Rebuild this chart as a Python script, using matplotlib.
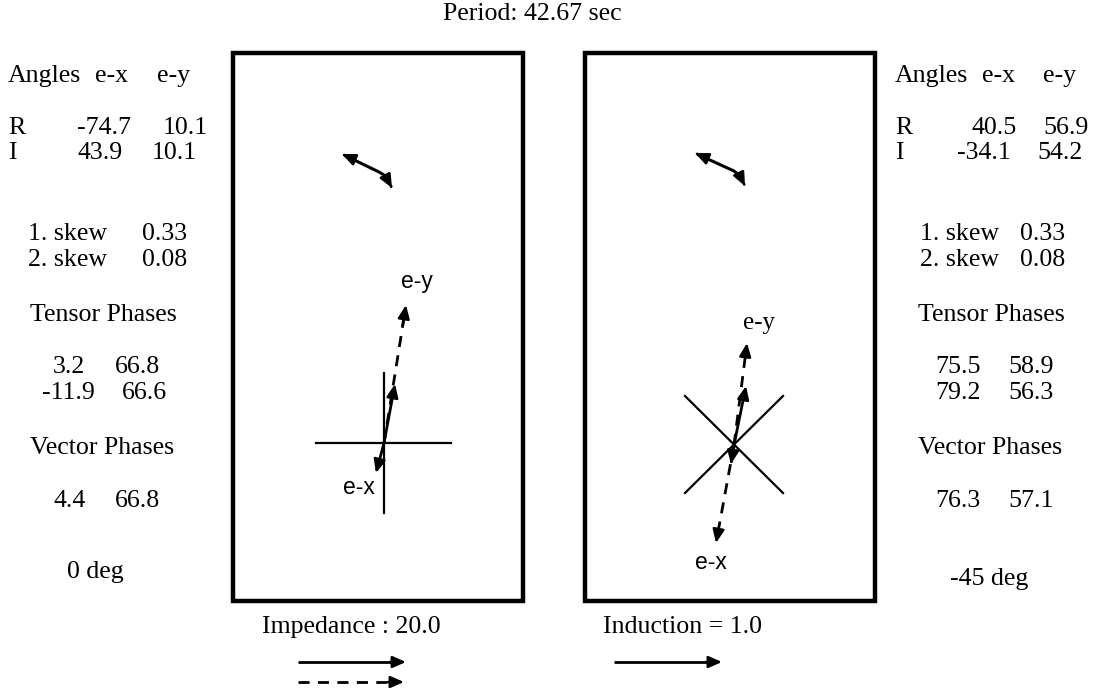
import matplotlib
matplotlib.use('Agg')
import matplotlib.pyplot as plt
from matplotlib.patches import Rectangle

# values shown in the figure
period = 42.67
angle_cols = ['e-x', 'e-y']
left_R = [-74.7, 10.1]
left_I = [43.9, 10.1]
right_R = [40.5, 56.9]
right_I = [-34.1, 54.2]
skews = [0.33, 0.08]
left_tensor = [[3.2, 66.8], [-11.9, 66.6]]
right_tensor = [[75.5, 58.9], [79.2, 56.3]]
left_vector = [4.4, 66.8]
right_vector = [76.3, 57.1]
rotations = [0, -45]
impedance_scale = 20.0
induction_scale = 1.0

SERIF = ['Liberation Serif', 'DejaVu Serif']
SANS = ['Liberation Sans', 'DejaVu Sans']
FS = 18.6

fig = plt.figure(figsize=(10.99, 6.88), dpi=100)
ax = fig.add_axes([0, 0, 1, 1])
ax.set_xlim(0, 1099)
ax.set_ylim(688, 0)
ax.axis('off')


def txt(x, y, s, fam=SERIF, size=FS):
    ax.text(x, y, s, family=fam, fontsize=size, ha='left', va='baseline', color='black')


def head(x0, y0, x1, y1):
    # solid arrow head at (x1, y1) pointing from (x0, y0)
    ax.annotate('', xy=(x1, y1), xytext=(x0 + 0.85 * (x1 - x0), y0 + 0.85 * (y1 - y0)),
                arrowprops=dict(arrowstyle='-|>,head_length=0.8,head_width=0.35',
                                color='black', lw=1.8, shrinkA=0, shrinkB=0))


def arrow(x0, y0, x1, y1, dashed=False):
    ax.plot([x0, x1 - 0.08 * (x1 - x0)], [y0, y1 - 0.08 * (y1 - y0)], color='black', lw=2,
            linestyle=(0, (4, 3)) if dashed else '-', solid_capstyle='butt')
    head(x0, y0, x1, y1)


# title
txt(443, 20, 'Period: %.2f sec' % period)

# boxes
for bx in [233, 585]:
    ax.add_patch(Rectangle((bx, 53), 290, 548, fill=False, lw=3.2, ec='black'))

# side tables
def side(x0, R, I, tensor, vector, rot, xs):
    txt(x0, 82, 'Angles')
    txt(xs['cx'], 82, angle_cols[0])
    txt(xs['cy'], 82, angle_cols[1])
    txt(x0, 134, 'R')
    txt(x0, 159, 'I')
    txt(xs['r1'], 134, '%.1f' % R[0])
    txt(xs['r2'], 134, '%.1f' % R[1])
    txt(xs['i1'], 159, '%.1f' % I[0])
    txt(xs['i2'], 159, '%.1f' % I[1])
    txt(xs['sk'], 240, '1. skew')
    txt(xs['sk'], 266, '2. skew')
    txt(xs['skv'], 240, '%.2f' % skews[0])
    txt(xs['skv'], 266, '%.2f' % skews[1])
    txt(xs['tp'], 321, 'Tensor Phases')
    txt(xs['t1a'], 373, '%.1f' % tensor[0][0])
    txt(xs['t2a'], 373, '%.1f' % tensor[0][1])
    txt(xs['t1b'], 399, '%.1f' % tensor[1][0])
    txt(xs['t2b'], 399, '%.1f' % tensor[1][1])
    txt(xs['tp'], 454, 'Vector Phases')
    txt(xs['t1a'], 507, '%.1f' % vector[0])
    txt(xs['t2a'], 507, '%.1f' % vector[1])
    txt(xs['deg'], xs['degy'], '%d deg' % rot)


side(8, left_R, left_I, left_tensor, left_vector, rotations[0],
     dict(cx=95, cy=157, r1=77, r2=163, i1=77, i2=152, sk=28, skv=142, tp=30, t1a=53,
          t2a=115, t1b=42, t2b=122, deg=67, degy=578))
side(895, right_R, right_I, right_tensor, right_vector, rotations[1],
     dict(cx=982, cy=1043, r1=972, r2=1043, i1=957, i2=1037, sk=920, skv=1020, tp=918,
          t1a=935, t2a=1008, t1b=935, t2b=1008, deg=950, degy=585))

# left box: ellipse sense arrow
ax.plot([346, 379, 384, 388], [156, 172, 175, 181], color='black', lw=2.2)
head(360, 162, 342, 154)
head(386, 177, 392, 188)
# left box: axes cross and vectors
ax.plot([384, 384], [373, 513], color='black', lw=1.6)
ax.plot([316, 451], [443, 443], color='black', lw=1.6)
arrow(384, 443, 406, 305, dashed=True)
arrow(384, 443, 395, 384)
arrow(384, 443, 376, 473)
txt(401, 288, 'e-y', fam=SANS, size=16.5)
txt(343, 494, 'e-x', fam=SANS, size=16.5)

# right box: ellipse sense arrow
ax.plot([699, 734, 739, 742], [155, 171, 175, 181], color='black', lw=2.2)
head(713, 161, 695, 153)
head(740, 176, 745, 186)
# right box: rotated cross and vectors
ax.plot([685, 783], [396, 493], color='black', lw=1.6)
ax.plot([685, 783], [493, 396], color='black', lw=1.6)
arrow(734, 445, 747, 343, dashed=True)
arrow(734, 445, 746, 386)
arrow(734, 445, 716, 543, dashed=True)
arrow(734, 445, 731, 464)
txt(743, 329, 'e-y', size=18)
txt(695, 569, 'e-x', fam=SANS, size=16.5)

# scale arrows
txt(262, 633, 'Impedance : %.1f' % impedance_scale)
arrow(298, 662, 406, 662)
arrow(298, 682, 404, 682, dashed=True)
txt(603, 633, 'Induction = %.1f' % induction_scale)
arrow(614, 662, 722, 662)

fig.savefig('out.png', dpi=100)
